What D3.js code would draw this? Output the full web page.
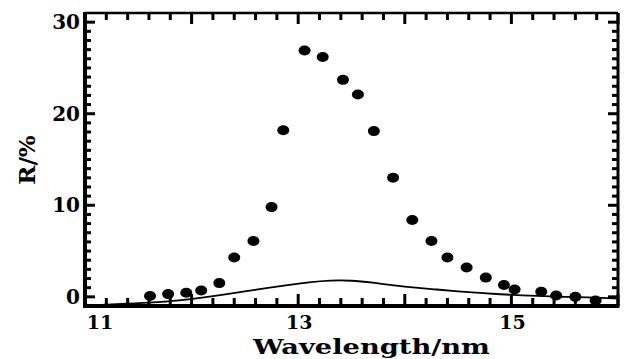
<!DOCTYPE html>
<html><head><meta charset="utf-8">
<script src="https://cdn.jsdelivr.net/npm/d3@7"></script>
<style>html,body{margin:0;padding:0;background:#fff;}</style>
</head><body>
<svg id="c" width="624" height="359"></svg>
<script>
// Measured reflectance (dots)
const pointX = [11.61, 11.78, 11.95, 12.09, 12.26, 12.40, 12.58, 12.75, 12.86, 13.06, 13.23, 13.42, 13.56, 13.71, 13.89, 14.07, 14.25, 14.40, 14.58, 14.76, 14.93, 15.03, 15.28, 15.42, 15.60, 15.79];
const pointY = [0.1, 0.3, 0.45, 0.7, 1.5, 4.3, 6.1, 9.8, 18.2, 26.9, 26.2, 23.7, 22.1, 18.1, 13.0, 8.4, 6.1, 4.3, 3.2, 2.1, 1.3, 0.8, 0.56, 0.15, 0.0, -0.4];
// Calculated curve (solid line)
const curveX = [11.0, 11.3, 11.6, 11.9, 12.1, 12.3, 12.5, 12.7, 12.9, 13.1, 13.3, 13.5, 13.7, 13.9, 14.1, 14.3, 14.5, 14.7, 14.9, 15.1, 15.3, 15.5, 15.7, 16.0];
const curveY = [-0.95, -0.8, -0.65, -0.4, -0.1, 0.25, 0.6, 0.95, 1.3, 1.6, 1.8, 1.8, 1.55, 1.25, 1.0, 0.8, 0.6, 0.42, 0.28, 0.15, 0.08, 0.0, -0.05, -0.2];
const xMajor = [11, 12, 13, 14, 15, 16];
const xLabels = [11, 13, 15];
const yMajor = [0, 10, 20, 30];
const yLabels = [0, 10, 20, 30];
const xTitle = "Wavelength/nm";
const yTitle = "R/%";

const svg = d3.select("#c");
const L = 85, R = 618, T = 13, B = 306;
const x = d3.scaleLinear().domain([11, 16]).range([L, R]);
const y = d3.scaleLinear().domain([-1, 31]).range([B, T]);
const font = "'DejaVu Serif', serif";

const xMinor = d3.range(11.2, 16, 0.2).filter(v => Math.abs(v - Math.round(v)) > 1e-6);
const yMinor = d3.range(0, 31, 1).filter(v => v % 10 !== 0);

const ticks = svg.append("g").attr("class", "ticks");
function addTicks(vals, pos, horiz, len) {
  ticks.append("g").selectAll("path").data(vals).join("path")
    .attr("d", d => horiz
      ? `M${x(d)},${pos}V${pos + len}`
      : `M${pos},${y(d)}H${pos + len}`)
    .attr("fill", "none").attr("stroke", "#000").attr("stroke-width", 3);
}
addTicks(xMinor, B, true, -8); addTicks(xMajor, B, true, -12);
addTicks(xMinor, T, true, 7);  addTicks(xMajor, T, true, 11);
addTicks(yMinor, L, false, 6); addTicks(yMajor, L, false, 10);
addTicks(yMinor, R, false, -6); addTicks(yMajor, R, false, -10);

// labels
svg.append("g").selectAll("text").data(xLabels).join("text")
  .attr("x", d => x(d) + (d === 11 ? 15 : 1)).attr("y", 329).attr("text-anchor", "middle")
  .attr("font-family", font).attr("font-weight", "bold").attr("font-size", 19).text(d => d);
svg.append("g").selectAll("text").data(yLabels).join("text")
  .attr("x", 80).attr("y", d => y(d)).attr("dy", "0.36em").attr("text-anchor", "end")
  .attr("font-family", font).attr("font-weight", "bold").attr("font-size", 20).text(d => d);

// frame
svg.append("line").attr("x1", L).attr("x2", R).attr("y1", T).attr("y2", T).attr("stroke", "#000").attr("stroke-width", 2.5);
svg.append("line").attr("x1", R).attr("x2", R).attr("y1", T).attr("y2", B).attr("stroke", "#000").attr("stroke-width", 3);
svg.append("line").attr("x1", L).attr("x2", L).attr("y1", T - 1).attr("y2", B + 2).attr("stroke", "#000").attr("stroke-width", 4);
svg.append("line").attr("x1", L - 2).attr("x2", R + 1.5).attr("y1", B).attr("y2", B).attr("stroke", "#000").attr("stroke-width", 4);

// curve
const lineGen = d3.line().x(d => x(d[0])).y(d => y(d[1])).curve(d3.curveBasis);
svg.append("path").datum(d3.zip(curveX, curveY)).attr("d", lineGen)
  .attr("fill", "none").attr("stroke", "#000").attr("stroke-width", 1.8);

// points
svg.append("g").selectAll("ellipse").data(d3.zip(pointX, pointY)).join("ellipse")
  .attr("cx", d => x(d[0])).attr("cy", d => y(d[1])).attr("rx", 6).attr("ry", 5).attr("fill", "#000");

// titles
svg.append("text").attr("x", 371.5).attr("y", 354).attr("text-anchor", "middle")
  .attr("textLength", 237).attr("lengthAdjust", "spacingAndGlyphs")
  .attr("font-family", font).attr("font-weight", "bold").attr("font-size", 21).text(xTitle);
svg.append("text").attr("transform", "translate(35,160) rotate(-90)").attr("text-anchor", "middle")
  .attr("font-family", font).attr("font-weight", "bold").attr("font-size", 23).text(yTitle);
</script>
</body></html>
